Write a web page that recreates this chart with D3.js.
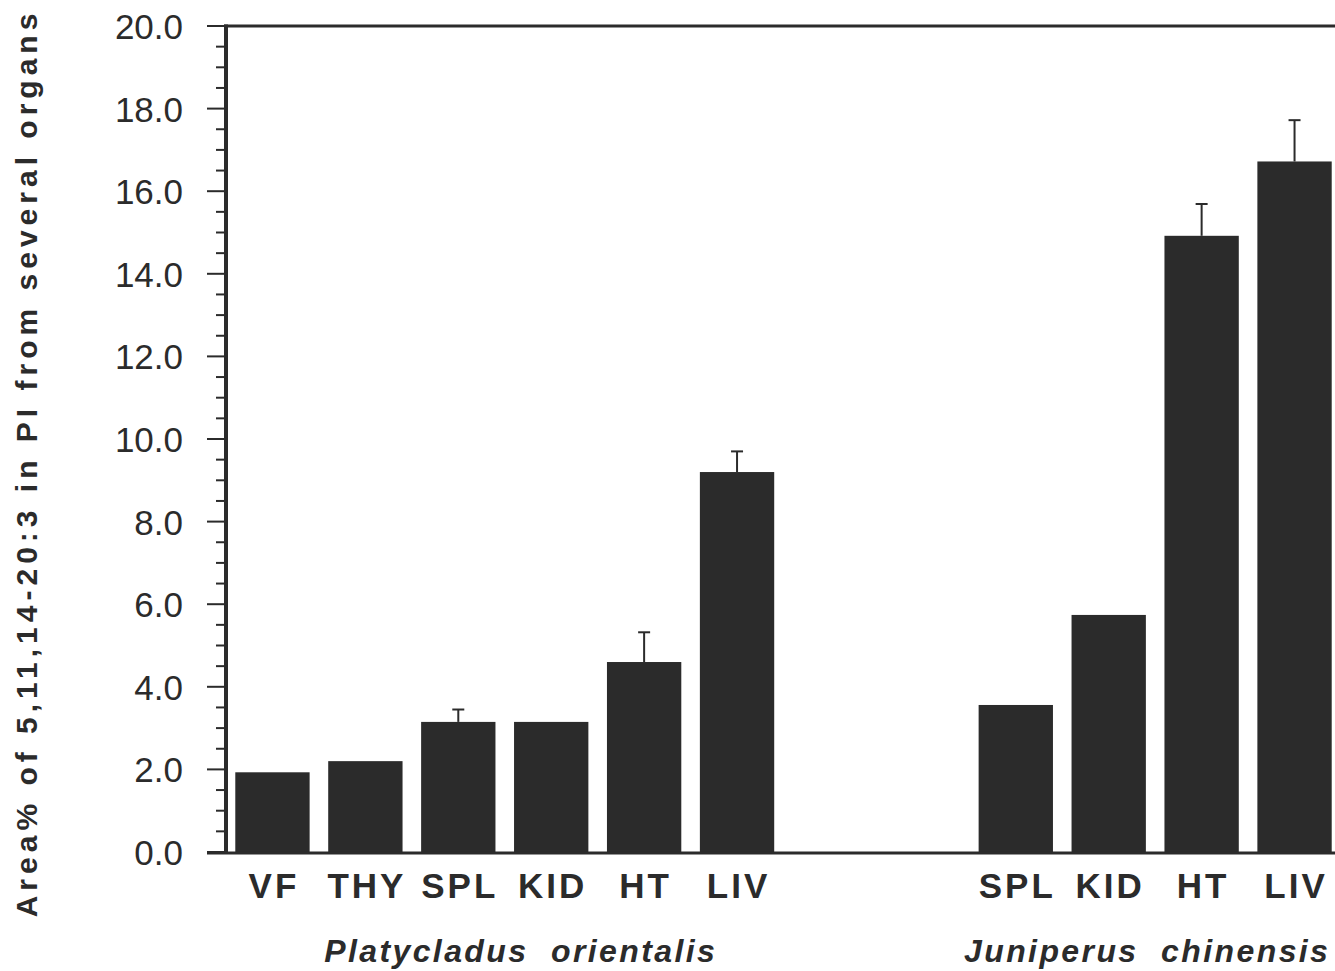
<!DOCTYPE html>
<html><head><meta charset="utf-8">
<script src="https://cdn.jsdelivr.net/npm/d3@7"></script>
<style>html,body{margin:0;padding:0;background:#fff;overflow:hidden}</style>
</head><body>
<svg id="c" width="1335" height="971"></svg>
<script>
const slots = ["VF","THY","SPL","KID","HT","LIV","","","SPL","KID","HT","LIV"];
const values = [1.93, 2.2, 3.15, 3.15, 4.6, 9.2, null, null, 3.56, 5.74, 14.92, 16.72];
const errors = [null, null, 0.3, null, 0.72, 0.5, null, null, null, null, 0.77, 1.0];
const groupNames = ["Platycladus  orientalis", "Juniperus  chinensis"];
const groupFrom = [0, 8];
const groupTo = [5, 11];
const yTicks = [0,2,4,6,8,10,12,14,16,18,20];
const yLabel = "Area% of 5,11,14-20:3 in PI from several organs";

const svg = d3.select("#c");
const ink = "#2b2b2b";
const font = "Liberation Sans, Arial, Helvetica, sans-serif";
const x0 = 226, x1 = 1341, yTop = 26, yBot = 852;
const x = d3.scaleBand().domain(d3.range(slots.length)).range([x0, x1]).paddingInner(0.2).paddingOuter(0.1);
const y = d3.scaleLinear().domain([0,20]).range([yBot, yTop]);

// bars
const idx = d3.range(slots.length).filter(i => values[i] != null);
svg.append("g").selectAll("rect").data(idx).join("rect")
  .attr("x", i => x(i)).attr("width", x.bandwidth())
  .attr("y", i => y(values[i])).attr("height", i => y(0) - y(values[i]))
  .attr("fill", ink);

// error bars
const eidx = idx.filter(i => errors[i] != null);
const eg = svg.append("g").attr("stroke", ink).attr("stroke-width", 2);
eg.selectAll("line.v").data(eidx).join("line")
  .attr("x1", i => x(i) + x.bandwidth()/2).attr("x2", i => x(i) + x.bandwidth()/2)
  .attr("y1", i => y(values[i])).attr("y2", i => y(values[i] + errors[i]));
eg.selectAll("line.h").data(eidx).join("line")
  .attr("x1", i => x(i) + x.bandwidth()/2 - 6).attr("x2", i => x(i) + x.bandwidth()/2 + 6)
  .attr("y1", i => y(values[i] + errors[i])).attr("y2", i => y(values[i] + errors[i]));

// y axis
const minor = d3.range(0, 20.01, 0.5).filter(v => Math.abs(v % 2) > 0.01);
const ax = svg.append("g").attr("stroke", ink);
ax.selectAll("line.maj").data(yTicks).join("line")
  .attr("x1", x0 - 19).attr("x2", x0).attr("y1", d => y(d)).attr("y2", d => y(d)).attr("stroke-width", 2);
ax.selectAll("line.min").data(minor).join("line")
  .attr("x1", x0 - 10).attr("x2", x0).attr("y1", d => y(d)).attr("y2", d => y(d)).attr("stroke-width", 2);
svg.append("g").selectAll("text").data(yTicks).join("text")
  .attr("x", 183).attr("y", d => y(d) + 13).attr("text-anchor", "end")
  .attr("font-family", font).attr("font-size", 35).attr("fill", ink)
  .text(d => d.toFixed(1));
// axis lines / frame
svg.append("line").attr("x1", x0).attr("x2", x0).attr("y1", yTop - 1.5).attr("y2", yBot + 1).attr("stroke", ink).attr("stroke-width", 4);
svg.append("line").attr("x1", x0 - 2).attr("x2", 1335).attr("y1", yTop).attr("y2", yTop).attr("stroke", ink).attr("stroke-width", 3);
svg.append("line").attr("x1", x0 - 19).attr("x2", 1335).attr("y1", yBot + 1).attr("y2", yBot + 1).attr("stroke", ink).attr("stroke-width", 3);

// category labels
svg.append("g").selectAll("text").data(d3.range(slots.length).filter(i => slots[i])).join("text")
  .attr("x", i => x(i) + x.bandwidth()/2 + 1.5).attr("y", 898).attr("text-anchor", "middle")
  .attr("font-family", font).attr("font-weight", "bold")
  .attr("font-size", 35).attr("letter-spacing", 3).attr("fill", ink)
  .text(i => slots[i]);

// group labels
const gdx = [16, -8];
svg.append("g").selectAll("text").data(d3.range(groupNames.length)).join("text")
  .attr("x", g => (x(groupFrom[g]) + x(groupTo[g]) + x.bandwidth())/2 + gdx[g]).attr("y", 962).attr("text-anchor", "middle")
  .attr("font-family", font).attr("font-weight", "bold").attr("font-style", "italic")
  .attr("font-size", 32).attr("letter-spacing", 2.4).attr("fill", ink)
  .style("white-space", "pre")
  .text(g => groupNames[g]);

// y label
svg.append("text").attr("transform", "translate(37,463) rotate(-90)").attr("text-anchor", "middle")
  .attr("font-family", font).attr("font-weight", "bold")
  .attr("font-size", 30).attr("letter-spacing", 5).attr("fill", ink)
  .text(yLabel);
</script>
</body></html>
